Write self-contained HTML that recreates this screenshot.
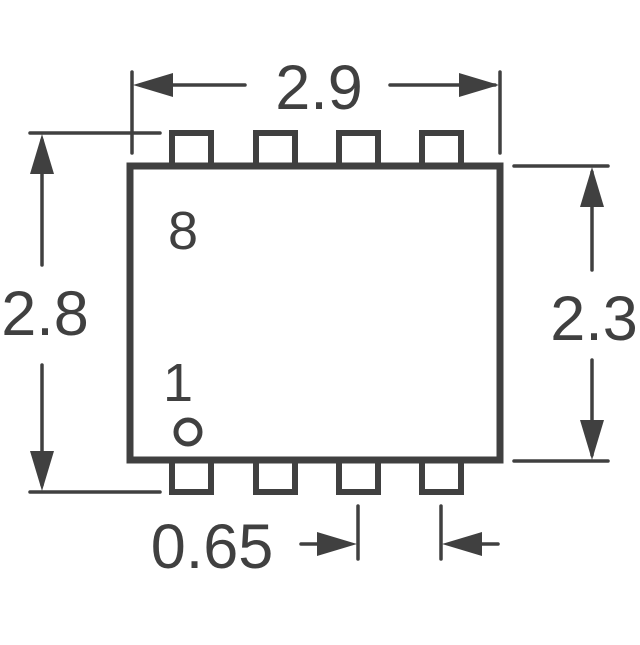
<!DOCTYPE html>
<html><head><style>html,body{margin:0;padding:0;background:#fff}</style></head>
<body>
<svg width="640" height="640" viewBox="0 0 640 640" xmlns="http://www.w3.org/2000/svg">
<g fill="none" stroke="#404040">
  <g stroke-width="6">
    <rect x="172" y="133" width="39" height="34"/>
    <rect x="256" y="133" width="39" height="34"/>
    <rect x="339" y="133" width="39" height="34"/>
    <rect x="422" y="133" width="39" height="34"/>
    <rect x="172" y="460" width="39" height="32"/>
    <rect x="256" y="460" width="39" height="32"/>
    <rect x="339" y="460" width="39" height="32"/>
    <rect x="422" y="460" width="39" height="32"/>
  </g>
  <rect x="130" y="166" width="370" height="294" stroke-width="7" fill="#fff"/>
  <circle cx="188" cy="432" r="12" stroke-width="5"/>
  <g stroke-width="3.5" stroke-linecap="round">
    <line x1="132" y1="72" x2="132" y2="153"/>
    <line x1="500" y1="72" x2="500" y2="153"/>
    <line x1="140" y1="85" x2="245" y2="85"/>
    <line x1="390" y1="85" x2="495" y2="85"/>
    <line x1="30" y1="133" x2="160" y2="133"/>
    <line x1="30" y1="492" x2="160" y2="492"/>
    <line x1="42" y1="140" x2="42" y2="265"/>
    <line x1="42" y1="365" x2="42" y2="485"/>
    <line x1="514" y1="166" x2="608" y2="166"/>
    <line x1="514" y1="461" x2="608" y2="461"/>
    <line x1="592" y1="172" x2="592" y2="270"/>
    <line x1="592" y1="360" x2="592" y2="455"/>
    <line x1="358" y1="506" x2="358" y2="559"/>
    <line x1="441" y1="506" x2="441" y2="559"/>
    <line x1="301" y1="544" x2="340" y2="544"/>
    <line x1="460" y1="544" x2="498" y2="544"/>
  </g>
</g>
<g fill="#404040">
  <polygon points="133,85 173,73 173,97"/>
  <polygon points="499,85 459,73 459,97"/>
  <polygon points="42,134 30,174 54,174"/>
  <polygon points="42,491 30,451 54,451"/>
  <polygon points="592,167 580,207 604,207"/>
  <polygon points="592,460 580,420 604,420"/>
  <polygon points="357,544 317,532 317,556"/>
  <polygon points="442,544 482,532 482,556"/>
</g>
<g fill="#404040" font-family="Liberation Sans, sans-serif" font-size="63" text-anchor="middle">
  <text x="319" y="109">2.9</text>
  <text x="45" y="335">2.8</text>
  <text x="594" y="340">2.3</text>
  <text x="212" y="568">0.65</text>
  <text x="183" y="249" font-size="54">8</text>
  <text x="178" y="401" font-size="54">1</text>
</g>
</svg>
</body></html>
